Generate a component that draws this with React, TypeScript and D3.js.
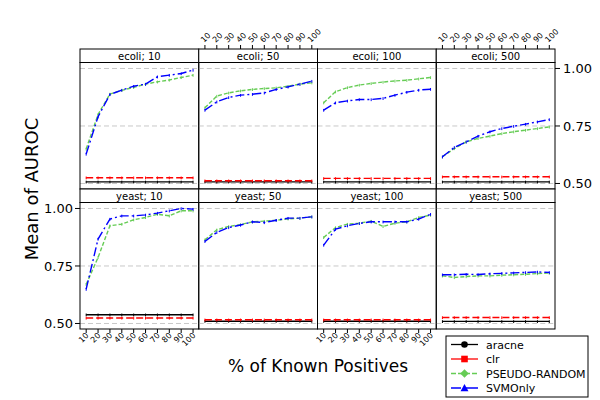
import React from "react";
import * as d3 from "d3";

const knownPositives = [10, 20, 30, 40, 50, 60, 70, 80, 90, 100];
const panelNames = [
  "ecoli; 10", "ecoli; 50", "ecoli; 100", "ecoli; 500",
  "yeast; 10", "yeast; 50", "yeast; 100", "yeast; 500",
];
const yTicks = [0.5, 0.75, 1.0];
const yTickLabels = ["0.50", "0.75", "1.00"];
const seriesNames = ["aracne", "clr", "PSEUDO-RANDOM", "SVMOnly"];

// per panel levels for the flat baselines
const aracneLevel = [0.507, 0.507, 0.507, 0.507, 0.538, 0.51, 0.51, 0.509];
const clrLevel = [0.525, 0.512, 0.522, 0.529, 0.524, 0.516, 0.516, 0.526];

const pseudoRandom: number[][] = [
  [0.65, 0.8, 0.889, 0.905, 0.918, 0.932, 0.942, 0.95, 0.961, 0.971],
  [0.829, 0.88, 0.894, 0.903, 0.909, 0.913, 0.916, 0.923, 0.932, 0.938],
  [0.851, 0.899, 0.917, 0.928, 0.935, 0.941, 0.946, 0.949, 0.955, 0.961],
  [0.616, 0.652, 0.681, 0.696, 0.706, 0.717, 0.725, 0.732, 0.739, 0.746],
  [0.67, 0.787, 0.925, 0.932, 0.951, 0.961, 0.975, 0.968, 0.99, 0.99],
  [0.864, 0.907, 0.922, 0.93, 0.942, 0.945, 0.949, 0.955, 0.958, 0.964],
  [0.874, 0.917, 0.932, 0.936, 0.945, 0.922, 0.936, 0.942, 0.961, 0.971],
  [0.707, 0.7, 0.704, 0.707, 0.707, 0.71, 0.712, 0.714, 0.717, 0.719],
];

const svmOnly: number[][] = [
  [0.628, 0.79, 0.887, 0.906, 0.923, 0.932, 0.964, 0.971, 0.978, 0.993],
  [0.819, 0.855, 0.874, 0.884, 0.888, 0.894, 0.909, 0.92, 0.932, 0.945],
  [0.819, 0.851, 0.859, 0.865, 0.865, 0.87, 0.884, 0.897, 0.906, 0.91],
  [0.616, 0.657, 0.681, 0.706, 0.725, 0.739, 0.749, 0.758, 0.768, 0.778],
  [0.649, 0.867, 0.954, 0.968, 0.968, 0.972, 0.98, 0.99, 1.0, 0.997],
  [0.857, 0.896, 0.917, 0.928, 0.942, 0.939, 0.949, 0.958, 0.958, 0.964],
  [0.841, 0.91, 0.925, 0.935, 0.942, 0.942, 0.942, 0.942, 0.954, 0.975],
  [0.712, 0.712, 0.714, 0.713, 0.716, 0.718, 0.72, 0.722, 0.724, 0.722],
];

const W = 600;
const H = 400;
const left = 80;
const panelW = 118.75;
const rowTops = [49, 189];
const stripH = 13.5;
const plotH = 126.5;
const FONT = "DejaVu Sans, Verdana, sans-serif";

const styles = [
  { color: "#000000", dash: "", marker: "circle" },
  { color: "#ff0000", dash: "7,3", marker: "square" },
  { color: "#66cc55", dash: "4,2", marker: "diamond" },
  { color: "#0000ff", dash: "9,3,2,3", marker: "triangle" },
];

function Marker({ type, x, y, color, r }: { type: string; x: number; y: number; color: string; r: number }) {
  if (type === "circle") return <circle cx={x} cy={y} r={r} fill={color} />;
  if (type === "square") return <rect x={x - r} y={y - r} width={2 * r} height={2 * r} fill={color} />;
  if (type === "diamond")
    return <path d={`M${x},${y - r * 1.3}L${x + r * 1.3},${y}L${x},${y + r * 1.3}L${x - r * 1.3},${y}Z`} fill={color} />;
  return <path d={`M${x},${y - r * 1.2}L${x + r * 1.2},${y + r}L${x - r * 1.2},${y + r}Z`} fill={color} />;
}

export default function App() {
  const xScale0 = d3.scaleLinear().domain([4.8, 104.8]).range([0, panelW]);
  const yScale0 = d3.scaleLinear().domain([0.476, 1.026]).range([plotH, 0]);

  const panels = panelNames.map((name, i) => {
    const row = Math.floor(i / 4);
    const col = i % 4;
    const x0 = left + col * panelW;
    const stripTop = rowTops[row];
    const plotTop = stripTop + stripH;
    const xs = xScale0.copy().range([x0, x0 + panelW]);
    const ys = yScale0.copy().range([plotTop + plotH, plotTop]);
    const seriesData = [
      knownPositives.map(() => aracneLevel[i]),
      knownPositives.map(() => clrLevel[i]),
      pseudoRandom[i],
      svmOnly[i],
    ];
    const line = d3
      .line<number>()
      .x((_, k) => xs(knownPositives[k]))
      .y((d) => ys(d));
    return { name, row, col, x0, stripTop, plotTop, xs, ys, seriesData, line };
  });

  return (
    <svg
      width={W}
      height={H}
      style={{ position: "absolute", left: 0, top: 0, background: "#fff" }}
      fontFamily={FONT}
    >
      <rect x={0} y={0} width={W} height={H} fill="#fff" />
      {panels.map((p, i) => (
        <g key={i}>
          {yTicks.map((t) => (
            <line
              key={t}
              x1={p.x0}
              x2={p.x0 + panelW}
              y1={p.ys(t)}
              y2={p.ys(t)}
              stroke="#c8c8c8"
              strokeWidth={1}
              strokeDasharray="5,3"
            />
          ))}
          {p.seriesData.map((vals, s) => (
            <g key={s}>
              <path
                d={p.line(vals) || ""}
                fill="none"
                stroke={styles[s].color}
                strokeWidth={1.4}
                strokeDasharray={styles[s].dash}
              />
              {vals.map((v, k) => (
                <line
                  key={k}
                  x1={p.xs(knownPositives[k])}
                  x2={p.xs(knownPositives[k])}
                  y1={p.ys(v) - 1.2}
                  y2={p.ys(v) + 1.6}
                  stroke={styles[s].color}
                  strokeWidth={1}
                />
              ))}
            </g>
          ))}
          <rect x={p.x0} y={p.plotTop} width={panelW} height={plotH} fill="none" stroke="#000" strokeWidth={1} />
          <rect x={p.x0} y={p.stripTop} width={panelW} height={stripH} fill="#fff" stroke="#000" strokeWidth={1} />
          <text
            x={p.x0 + panelW / 2}
            y={p.stripTop + stripH / 2 + 4}
            textAnchor="middle"
            fontSize={10}
            fill="#000"
          >
            {p.name}
          </text>
          {p.row === 1 && p.col % 2 === 0 &&
            knownPositives.map((t) => {
              const x = p.xs(t);
              const yb = p.plotTop + plotH;
              return (
                <g key={t}>
                  <line x1={x} x2={x} y1={yb} y2={yb + 4} stroke="#000" />
                  <text
                    transform={`translate(${x + 3},${yb + 7}) rotate(-45)`}
                    textAnchor="end"
                    fontSize={8}
                    fill="#000"
                  >
                    {t}
                  </text>
                </g>
              );
            })}
          {p.row === 0 && p.col % 2 === 1 &&
            knownPositives.map((t) => {
              const x = p.xs(t);
              const yt = p.stripTop;
              return (
                <g key={t}>
                  <line x1={x} x2={x} y1={yt} y2={yt - 4} stroke="#000" />
                  <text
                    transform={`translate(${x - 1},${yt - 6}) rotate(-45)`}
                    textAnchor="start"
                    fontSize={8}
                    fill="#000"
                  >
                    {t}
                  </text>
                </g>
              );
            })}
          {p.row === 0 && p.col === 3 &&
            yTicks.map((t, k) => (
              <g key={t}>
                <line x1={p.x0 + panelW} x2={p.x0 + panelW + 5} y1={p.ys(t)} y2={p.ys(t)} stroke="#000" />
                <text x={p.x0 + panelW + 8} y={p.ys(t) + 5} fontSize={13} fill="#000">
                  {yTickLabels[k]}
                </text>
              </g>
            ))}
          {p.row === 1 && p.col === 0 &&
            yTicks.map((t, k) => (
              <g key={t}>
                <line x1={p.x0} x2={p.x0 - 5} y1={p.ys(t)} y2={p.ys(t)} stroke="#000" />
                <text x={p.x0 - 7} y={p.ys(t) + 5} fontSize={13} textAnchor="end" fill="#000">
                  {yTickLabels[k]}
                </text>
              </g>
            ))}
        </g>
      ))}
      <text x={318} y={372} textAnchor="middle" fontSize={17} fill="#000">
        % of Known Positives
      </text>
      <text transform="translate(38,189) rotate(-90)" textAnchor="middle" fontSize={18} fill="#000">
        Mean of AUROC
      </text>
      <g>
        <rect x={446} y={336} width={142} height={61} fill="#fff" stroke="#000" strokeWidth={1} />
        {seriesNames.map((n, s) => {
          const y = 344.5 + s * 14.5;
          return (
            <g key={n}>
              <line
                x1={451}
                x2={478}
                y1={y}
                y2={y}
                stroke={styles[s].color}
                strokeWidth={1.3}
                strokeDasharray={s === 2 ? "5,2" : s === 3 ? "10,4,4,0" : ""}
              />
              <Marker type={styles[s].marker} x={464.5} y={y} color={styles[s].color} r={3.3} />
              <text x={486} y={y + 4} fontSize={11} fill="#000">
                {n}
              </text>
            </g>
          );
        })}
      </g>
    </svg>
  );
}
